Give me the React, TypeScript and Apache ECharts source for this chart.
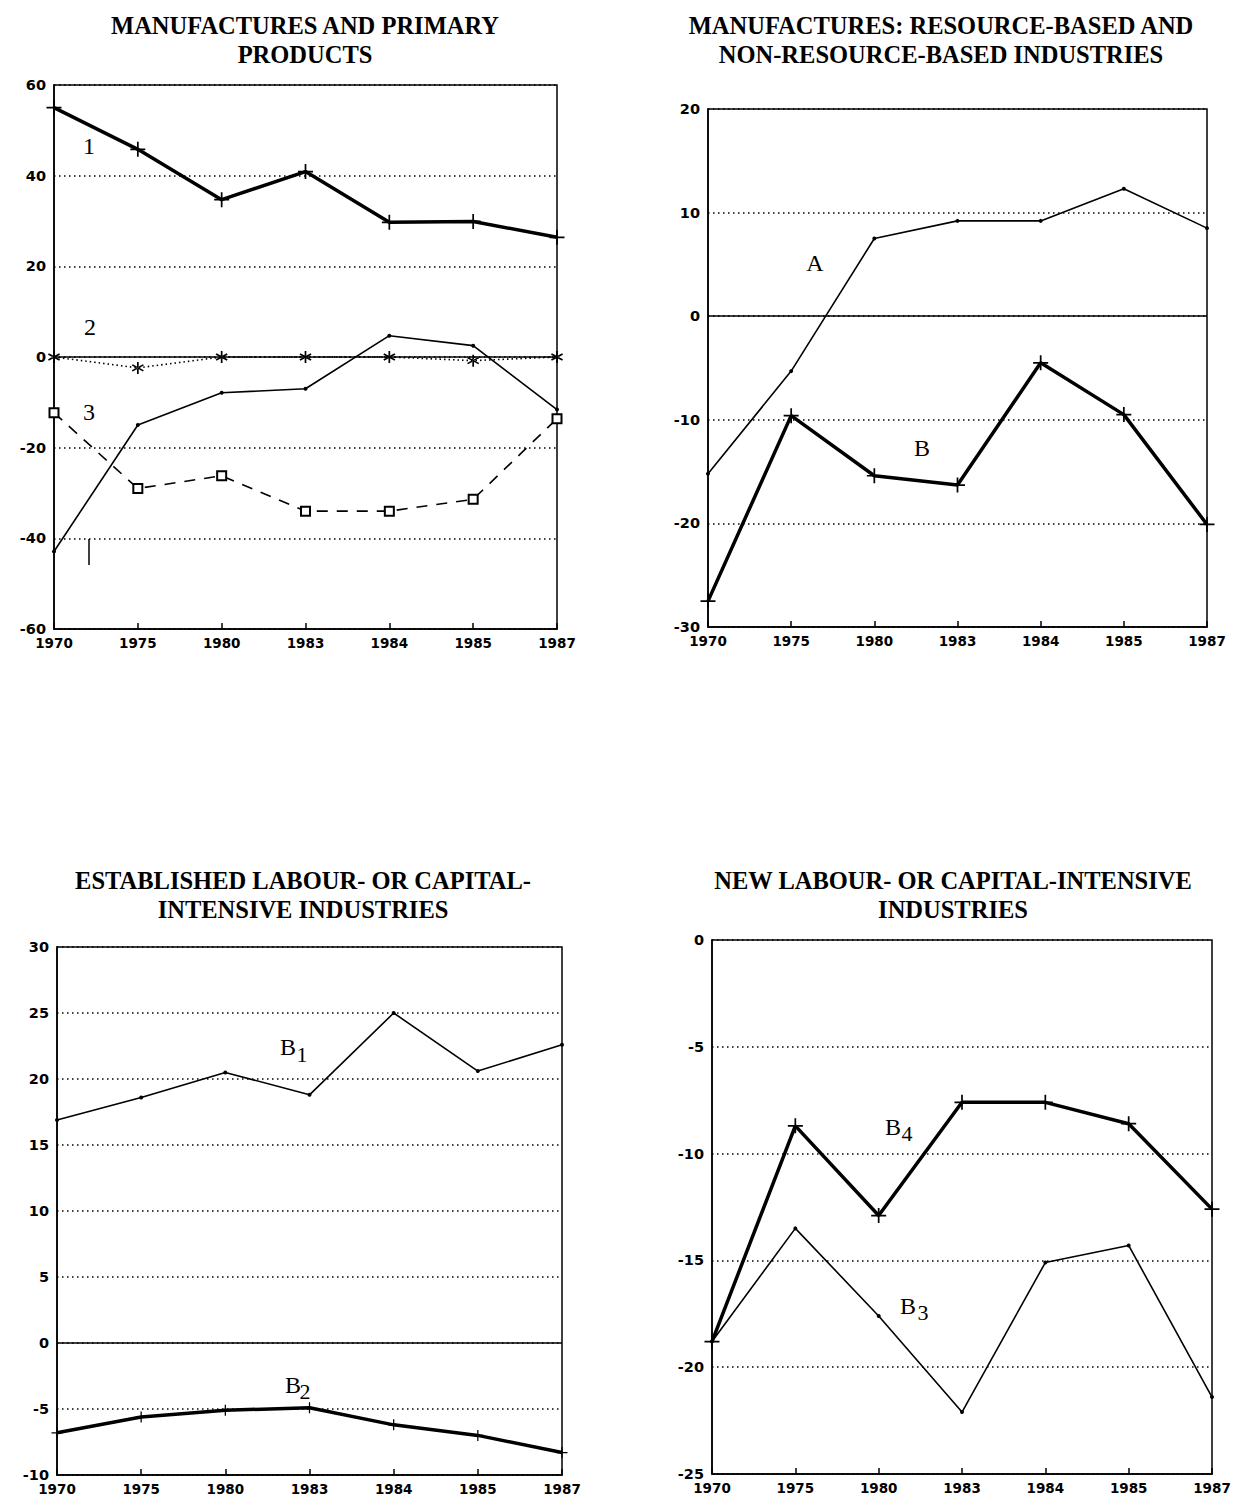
import React, { useEffect, useRef } from "react";
import * as echarts from "echarts";

const years = ["1970", "1975", "1980", "1983", "1984", "1985", "1987"];

// Panel 1: Manufactures and primary products
const p1Series1 = [55, 45.8, 34.7, 40.9, 29.7, 29.9, 26.4];
const p1Series2 = [0, -2.4, 0, 0, 0, -0.8, 0];
const p1Thin = [-42.9, -15, -7.9, -7, 4.7, 2.5, -11.6];
const p1Series3 = [-12.3, -29, -26.2, -34, -34, -31.4, -13.6];

// Panel 2: resource-based (A) and non-resource-based (B)
const p2A = [-15.2, -5.3, 7.5, 9.2, 9.2, 12.3, 8.5];
const p2B = [-27.5, -9.6, -15.4, -16.3, -4.5, -9.5, -20.1];

// Panel 3: established industries
const p3B1 = [16.9, 18.6, 20.5, 18.8, 25, 20.6, 22.6];
const p3B2 = [-6.8, -5.6, -5.1, -4.9, -6.2, -7.0, -8.3];

// Panel 4: new industries
const p4B4 = [-18.8, -8.7, -12.9, -7.6, -7.6, -8.6, -12.6];
const p4B3 = [-18.8, -13.5, -17.6, -22.1, -15.1, -14.3, -21.4];

const titles = [
  ["MANUFACTURES AND PRIMARY", "PRODUCTS"],
  ["MANUFACTURES: RESOURCE-BASED AND", "NON-RESOURCE-BASED INDUSTRIES"],
  ["ESTABLISHED LABOUR- OR CAPITAL-", "INTENSIVE INDUSTRIES"],
  ["NEW LABOUR- OR CAPITAL-INTENSIVE", "INDUSTRIES"],
];

const yRanges = [
  { min: -60, max: 60, interval: 20 },
  { min: -30, max: 20, interval: 10 },
  { min: -10, max: 30, interval: 5 },
  { min: -25, max: 0, interval: 5 },
];

const PLUS =
  "path://M-0.8,-7 L0.8,-7 L0.8,-0.8 L7,-0.8 L7,0.8 L0.8,0.8 L0.8,7 L-0.8,7 L-0.8,0.8 L-7,0.8 L-7,-0.8 L-0.8,-0.8 Z";
const STAR =
  "path://M-0.8,-6 L0.8,-6 L0.8,6 L-0.8,6 Z M5.6,2.31 L4.8,3.69 L-5.6,-2.31 L-4.8,-3.69 Z M5.6,-2.31 L4.8,-3.69 L-5.6,2.31 L-4.8,3.69 Z";

export default function App() {
  const ref = useRef<HTMLDivElement>(null);

  useEffect(() => {
    if (!ref.current) return;
    const chart = echarts.init(ref.current, null, { renderer: "svg" });

    const grids = [
      { left: 54, top: 85, width: 503, height: 544 },
      { left: 708, top: 109, width: 499, height: 518 },
      { left: 57, top: 947, width: 505, height: 528 },
      { left: 712, top: 940, width: 500, height: 534 },
    ].map((g) => ({
      ...g,
      show: true,
      borderColor: "#000",
      borderWidth: 1.5,
      containLabel: false,
    }));

    const xLabelFont = {
      color: "#000",
      fontFamily: "DejaVu Sans",
      fontWeight: "bold" as const,
      fontSize: 13.5,
    };
    const yLabelFont = { ...xLabelFont, fontSize: 14.5 };

    const xAxes = grids.map((_, i) => ({
      type: "category" as const,
      gridIndex: i,
      data: years,
      boundaryGap: false,
      axisLine: { show: true, onZero: false, lineStyle: { color: "#000", width: 1.5 } },
      axisTick: { show: true, inside: true, length: 6, lineStyle: { color: "#000", width: 1.5 } },
      axisLabel: { ...xLabelFont, margin: 7 },
      splitLine: { show: false },
    }));

    const yAxes = yRanges.map((r, i) => ({
      type: "value" as const,
      gridIndex: i,
      min: r.min,
      max: r.max,
      interval: r.interval,
      axisLine: { show: true, onZero: false, lineStyle: { color: "#000", width: 1.5 } },
      axisTick: { show: false },
      axisLabel: { ...yLabelFont, margin: 8 },
      splitLine: {
        show: true,
        lineStyle: { color: "#000", width: 1.5, type: [1.5, 3.5] as any },
      },
    }));

    const zeroLine = {
      silent: true,
      symbol: "none",
      label: { show: false },
      lineStyle: { color: "#000", type: "solid" as const, width: 1.5 },
      data: [{ yAxis: 0 }],
    };

    const thick = (name: string, data: number[], idx: number, size = 15, extra: any = {}) => ({
      name,
      type: "line" as const,
      xAxisIndex: idx,
      yAxisIndex: idx,
      data,
      symbol: PLUS,
      symbolSize: size,
      showSymbol: true,
      lineStyle: { color: "#000", width: 3.5 },
      itemStyle: { color: "#000" },
      z: 3,
      ...extra,
    });
    const thin = (name: string, data: number[], idx: number, extra: any = {}) => ({
      name,
      type: "line" as const,
      xAxisIndex: idx,
      yAxisIndex: idx,
      data,
      symbol: "circle",
      symbolSize: 4,
      showSymbol: true,
      lineStyle: { color: "#000", width: 1.6 },
      itemStyle: { color: "#000" },
      z: 3,
      ...extra,
    });

    const series: any[] = [
      thick("1", p1Series1, 0),
      {
        name: "2",
        type: "line",
        xAxisIndex: 0,
        yAxisIndex: 0,
        data: p1Series2,
        symbol: STAR,
        symbolSize: 12,
        lineStyle: { color: "#000", width: 1.6, type: [1.5, 3] },
        itemStyle: { color: "#000" },
        markLine: zeroLine,
        z: 3,
      },
      thin("thin", p1Thin, 0),
      {
        name: "3",
        type: "line",
        xAxisIndex: 0,
        yAxisIndex: 0,
        data: p1Series3,
        symbol: "emptyRect",
        symbolSize: 9,
        lineStyle: { color: "#000", width: 1.6, type: [11, 9] },
        itemStyle: { color: "#000", borderColor: "#000", borderWidth: 1.5 },
        z: 3,
      },
      thin("A", p2A, 1, { markLine: zeroLine }),
      thick("B", p2B, 1),
      thin("B1", p3B1, 2, { markLine: zeroLine }),
      thick("B2", p3B2, 2, 11),
      thick("B4", p4B4, 3),
      thin("B3", p4B3, 3),
    ];

    const titleCenters = [
      [305, 25],
      [941, 25],
      [303, 880],
      [953, 880],
    ];
    const graphics: any[] = [];
    titles.forEach((lines, i) => {
      lines.forEach((t, j) => {
        graphics.push({
          type: "text",
          x: titleCenters[i][0],
          y: titleCenters[i][1] + j * 29,
          style: {
            text: t,
            font: 'bold 24.5px "Liberation Serif"',
            fill: "#000",
            textAlign: "center",
            textVerticalAlign: "middle",
          },
        });
      });
    });

    const serifLabel = (text: string, x: number, y: number, size = 24) => ({
      type: "text",
      x,
      y,
      style: {
        text,
        font: `${size}px "Liberation Serif"`,
        fill: "#000",
        textAlign: "center",
        textVerticalAlign: "middle",
      },
    });

    graphics.push(
      serifLabel("1", 89, 146),
      serifLabel("2", 90, 327),
      serifLabel("3", 89, 412),
      {
        type: "line",
        shape: { x1: 89, y1: 539, x2: 89, y2: 565 },
        style: { stroke: "#000", lineWidth: 1.5 },
      },
      serifLabel("A", 815, 263),
      serifLabel("B", 922, 448),
      serifLabel("B", 288, 1047),
      serifLabel("1", 302, 1054, 22),
      serifLabel("B", 293, 1385),
      serifLabel("2", 305, 1391, 22),
      serifLabel("B", 893, 1127),
      serifLabel("4", 907, 1133, 22),
      serifLabel("B", 908, 1306),
      serifLabel("3", 923, 1312, 22)
    );

    chart.setOption({
      animation: false,
      backgroundColor: "#fff",
      grid: grids,
      xAxis: xAxes,
      yAxis: yAxes,
      series,
      graphic: graphics,
    });

    return () => chart.dispose();
  }, []);

  return (
    <div
      ref={ref}
      style={{ position: "absolute", left: 0, top: 0, width: 1235, height: 1507 }}
    />
  );
}
